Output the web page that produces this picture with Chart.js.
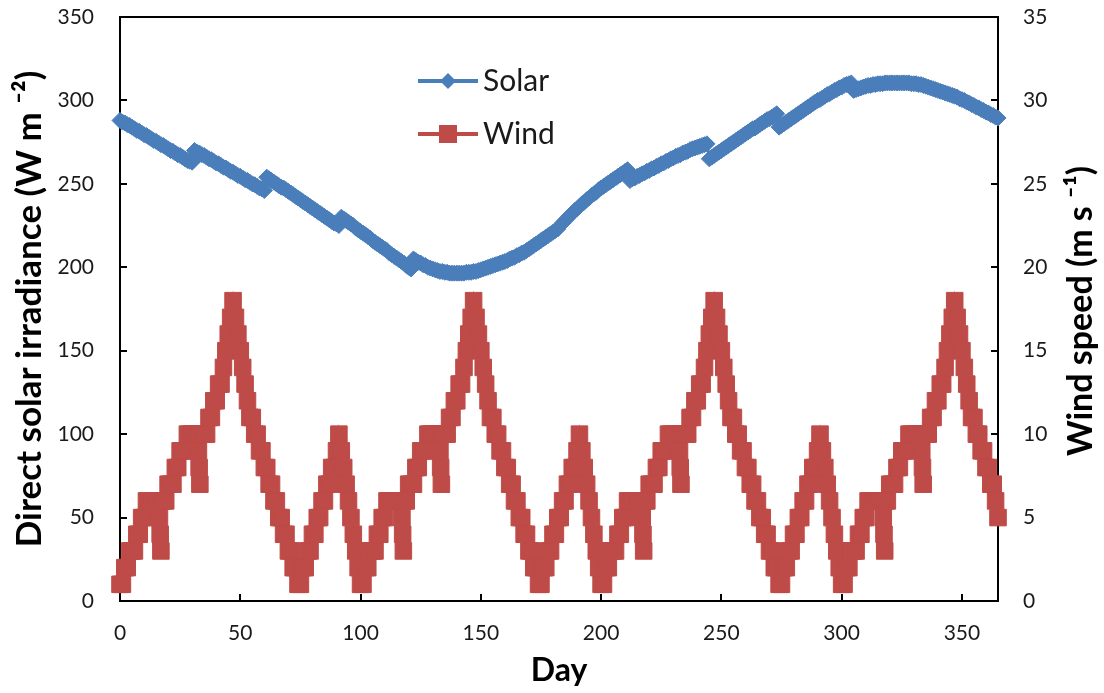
<!DOCTYPE html>
<html>
<head>
<meta charset="utf-8">
<script src="https://cdn.jsdelivr.net/npm/chart.js@4.4.1/dist/chart.umd.min.js"></script>
<style>
html,body{margin:0;padding:0;background:#fff;}
canvas{display:block;}
</style>
</head>
<body>
<canvas id="c" width="1104" height="693"></canvas>
<script>
// ---------------- DATA ----------------
const seriesNames = ['Solar', 'Wind'];
const xTitle = 'Day';
const yLeftTitle = 'Direct solar irradiance (W m \u207B\u00B2)';
const yRightTitle = 'Wind speed (m s \u207B\u00B9)';
const xTickValues = [0, 50, 100, 150, 200, 250, 300, 350];
const yLeftTickValues = [0, 50, 100, 150, 200, 250, 300, 350];
const yRightTickValues = [0, 5, 10, 15, 20, 25, 30, 35];

// Direct solar irradiance (W m-2), one value per day, day 0 .. 365
const solarIrradiance = [
  288, 287, 286.5, 285.5, 285, 284, 283, 282, 281.5, 280.5,
  279.5, 279, 278, 277, 276, 275.5, 274.5, 273.5, 273, 272,
  271, 270, 269.5, 268.5, 267.5, 267, 266, 265, 264, 263.5,
  263,
  270, 269, 268.5, 267.5, 267, 266, 265, 264.5, 263.5, 262.5,
  262, 261, 260, 259.5, 258.5, 257.5, 257, 256, 255, 254.5,
  253.5, 252.5, 252, 251, 250, 249.5, 248.5, 247.5, 247, 246,
  254, 253, 252, 251, 250, 249, 248, 247.5, 246.5, 245.5,
  244.5, 243.5, 242.5, 241.5, 240.5, 239.5, 238.5, 237.5, 236.5, 235.5,
  234.5, 233.5, 232.5, 231.5, 230.5, 229.5, 228.5, 227.5, 226.5, 226,
  225,
  230, 229, 228, 227, 226, 225, 223.5, 222.5, 221.5, 220.5,
  219.5, 218.5, 217.5, 216, 215, 214, 213, 212, 211, 210,
  208.5, 207.5, 206.5, 205.5, 204.5, 203.5, 202.5, 201, 200, 199,
  205, 204, 203, 202.5, 201.5, 201, 200, 199.5, 199, 198.5,
  198, 197.5, 197.5, 197, 197, 196.5, 196.5, 196.5, 196.5, 196.5,
  196.5, 196.5, 197, 197, 197, 197.5, 197.5, 198, 198.5, 199,
  199.5,
  200, 200.5, 201, 201.5, 202, 202.5, 203, 203.5, 204, 205,
  205.5, 206, 207, 207.5, 208.5, 209, 210, 211, 212, 213,
  214, 215, 216, 217, 218, 219, 220, 221, 222, 223,
  225, 226.5, 228, 229.5, 231, 232.5, 234, 235, 236.5, 238,
  239, 240.5, 241.5, 243, 244, 245, 246.5, 247.5, 248.5, 249.5,
  250.5, 251.5, 252.5, 253.5, 254.5, 255.5, 256.5, 257.5, 258.5,
  252, 253, 253.5, 254.5, 255, 256, 256.5, 257.5, 258, 259,
  259.5, 260.5, 261, 262, 262.5, 263.5, 264, 265, 265.5, 266.5,
  267, 267.5, 268.5, 269, 269.5, 270.5, 271, 271.5, 272, 272.5,
  273, 273.5, 274,
  265, 266, 267, 268, 269, 270, 271, 272, 273, 274,
  275, 276, 277, 278, 279, 280, 281, 282, 283, 283.5,
  284.5, 285.5, 286.5, 287.5, 288.5, 289, 290, 291, 292,
  284, 285, 286, 287, 288, 289, 290, 291, 292, 293,
  294, 295, 296, 297, 298, 299, 300, 300.5, 301.5, 302.5,
  303.5, 304, 305, 306, 306.5, 307.5, 308, 309, 309.5, 310,
  310.5,
  306, 306.5, 307, 307.5, 308, 308.5, 309, 309, 309.5, 309.5,
  310, 310, 310, 310.5, 310.5, 310.5, 310.5, 310.5, 310.5, 310.5,
  310.5, 310.5, 310.5, 310.5, 310, 310, 310, 309.5, 309.5, 309,
  308.5, 308, 307.5, 307, 306.5, 306, 305.5, 305, 304.5, 304,
  303.5, 303, 302.5, 302, 301, 300.5, 300, 299, 298.5, 297.5,
  297, 296, 295.5, 294.5, 294, 293, 292.5, 291.5, 291, 290,
  289.5
];

// Wind speed (m s-1), one value per day, day 0 .. 365
const windSpeed = [
  1, 1, 2, 2, 3, 3, 3, 4, 4, 5,
  5, 6, 6, 6, 6, 6, 6, 6, 6, 6,
  7, 7, 7, 8, 8, 9, 9, 9, 10, 10,
  10, 10, 10, 10, 10, 10, 10, 11, 11, 12,
  12, 13, 13, 14, 15, 16, 17, 18, 17, 16,
  15, 14, 13, 12, 11, 11, 10, 10, 9, 9,
  8, 8, 7, 7, 6, 6, 5, 5, 4, 4,
  3, 3, 2, 2, 1, 1, 2, 2, 3, 3,
  4, 4, 5, 5, 6, 6, 7, 7, 8, 8,
  9, 10, 9, 8, 7, 6, 5, 4, 3, 2,
  1, 1, 2, 2, 3, 3, 3, 4, 4, 5,
  5, 6, 6, 6, 6, 6, 6, 6, 6, 6,
  7, 7, 7, 8, 8, 9, 9, 9, 10, 10,
  10, 10, 10, 10, 10, 10, 10, 11, 11, 12,
  12, 13, 13, 14, 15, 16, 17, 18, 17, 16,
  15, 14, 13, 12, 11, 11, 10, 10, 9, 9,
  8, 8, 7, 7, 6, 6, 5, 5, 4, 4,
  3, 3, 2, 2, 1, 1, 2, 2, 3, 3,
  4, 4, 5, 5, 6, 6, 7, 7, 8, 8,
  9, 10, 9, 8, 7, 6, 5, 4, 3, 2,
  1, 1, 2, 2, 3, 3, 3, 4, 4, 5,
  5, 6, 6, 6, 6, 6, 6, 6, 6, 6,
  7, 7, 7, 8, 8, 9, 9, 9, 10, 10,
  10, 10, 10, 10, 10, 10, 10, 11, 11, 12,
  12, 13, 13, 14, 15, 16, 17, 18, 17, 16,
  15, 14, 13, 12, 11, 11, 10, 10, 9, 9,
  8, 8, 7, 7, 6, 6, 5, 5, 4, 4,
  3, 3, 2, 2, 1, 1, 2, 2, 3, 3,
  4, 4, 5, 5, 6, 6, 7, 7, 8, 8,
  9, 10, 9, 8, 7, 6, 5, 4, 3, 2,
  1, 1, 2, 2, 3, 3, 3, 4, 4, 5,
  5, 6, 6, 6, 6, 6, 6, 6, 6, 6,
  7, 7, 7, 8, 8, 9, 9, 9, 10, 10,
  10, 10, 10, 10, 10, 10, 10, 11, 11, 12,
  12, 13, 13, 14, 15, 16, 17, 18, 17, 16,
  15, 14, 13, 12, 11, 11, 10, 10, 9, 9,
  8, 8, 7, 7, 6, 5
];

// short downward wind dips (day, wind speed)
const windDipDays = [
  16.4, 16.7, 17.0, 32.6, 32.9, 33.2,
  117.2, 117.5, 117.8, 133.0, 133.3, 133.6,
  217.1, 217.4, 217.7, 232.6, 232.9, 233.2,
  317.3, 317.6, 317.9, 333.3, 333.6, 333.9
];
const windDipSpeeds = [
  5, 4, 3, 9, 8, 7,
  5, 4, 3, 9, 8, 7,
  5, 4, 3, 9, 8, 7,
  5, 4, 3, 9, 8, 7
];

// ---------------- STYLE ----------------
const SOLAR_COLOR = '#4A7EBB';
const WIND_COLOR = '#BE4B48';
const FONT = 'Lato';
const TEXT = '#1a1a1a';

const solarPoints = solarIrradiance.map((v, i) => ({ x: i, y: v }));
const windPoints = windSpeed.map((v, i) => ({ x: i, y: v }))
  .concat(windDipDays.map((d, i) => ({ x: d, y: windDipSpeeds[i] })))
  .sort((a, b) => a.x - b.x);

const framePlugin = {
  id: 'frame',
  beforeDatasetsDraw(chart) {
    const { ctx, chartArea: a, scales } = chart;
    ctx.save();
    ctx.strokeStyle = '#000';
    ctx.lineWidth = 2;
    ctx.strokeRect(a.left, a.top, a.right - a.left, a.bottom - a.top);
    ctx.beginPath();
    const T = 7;
    scales.x.ticks.forEach(t => {
      const p = Math.round(scales.x.getPixelForValue(t.value));
      ctx.moveTo(p, a.bottom); ctx.lineTo(p, a.bottom - T);
    });
    scales.y.ticks.forEach(t => {
      const p = Math.round(scales.y.getPixelForValue(t.value));
      ctx.moveTo(a.left, p); ctx.lineTo(a.left + T, p);
    });
    scales.y1.ticks.forEach(t => {
      const p = Math.round(scales.y1.getPixelForValue(t.value));
      ctx.moveTo(a.right, p); ctx.lineTo(a.right - T, p);
    });
    ctx.stroke();
    ctx.restore();
  },
  afterDraw(chart) {
    const { ctx, chartArea: a } = chart;
    ctx.save();
    // right axis title, reading bottom-to-top
    ctx.translate(1081, (a.top + a.bottom) / 2 + 2);
    ctx.rotate(-Math.PI / 2);
    ctx.font = 'bold 34px ' + FONT;
    ctx.fillStyle = '#000';
    ctx.textAlign = 'center';
    ctx.textBaseline = 'middle';
    ctx.fillText(yRightTitle, 0, 0);
    ctx.restore();

    // legend inside the plot
    const items = [
      { name: seriesNames[0], color: SOLAR_COLOR, style: 'diamond', y: 81 },
      { name: seriesNames[1], color: WIND_COLOR, style: 'square', y: 134 }
    ];
    ctx.save();
    items.forEach(it => {
      ctx.strokeStyle = it.color;
      ctx.lineWidth = 4;
      ctx.beginPath();
      ctx.moveTo(418, it.y); ctx.lineTo(478, it.y);
      ctx.stroke();
      ctx.fillStyle = it.color;
      ctx.beginPath();
      if (it.style === 'diamond') {
        const r = 8;
        ctx.moveTo(448 - r, it.y); ctx.lineTo(448, it.y - r);
        ctx.lineTo(448 + r, it.y); ctx.lineTo(448, it.y + r);
        ctx.closePath();
      } else {
        ctx.rect(448 - 9, it.y - 9, 18, 18);
      }
      ctx.fill();
      ctx.fillStyle = TEXT;
      ctx.font = '30px ' + FONT;
      ctx.textAlign = 'left';
      ctx.textBaseline = 'middle';
      ctx.fillText(it.name, 483, it.y);
    });
    ctx.restore();
  }
};

const tickFont = { family: FONT, size: 21 };
const noPadY = s => { s.paddingTop = 0; s.paddingBottom = 0; };

new Chart(document.getElementById('c'), {
  type: 'scatter',
  data: {
    datasets: [
      {
        label: seriesNames[0], data: solarPoints, yAxisID: 'y', showLine: true,
        borderColor: SOLAR_COLOR, backgroundColor: SOLAR_COLOR, pointBorderColor: SOLAR_COLOR,
        borderWidth: 3, pointStyle: 'rectRot', pointRadius: 8, pointBorderWidth: 1, clip: false
      },
      {
        label: seriesNames[1], data: windPoints, yAxisID: 'y1', showLine: true,
        borderColor: WIND_COLOR, backgroundColor: WIND_COLOR, pointBorderColor: WIND_COLOR,
        borderWidth: 3, pointStyle: 'rect', pointRadius: 11.7, pointBorderWidth: 1, clip: false
      }
    ]
  },
  options: {
    responsive: false,
    animation: false,
    events: [],
    layout: { padding: { top: 17, left: 0, right: 0, bottom: 0 } },
    plugins: { legend: { display: false }, tooltip: { enabled: false } },
    scales: {
      x: {
        type: 'linear', min: 0, max: 365,
        afterBuildTicks: s => { s.ticks = xTickValues.map(v => ({ value: v })); },
        afterFit: s => { s.height = 92; s.paddingLeft = 0; s.paddingRight = 0; },
        grid: { display: false, drawTicks: false },
        border: { display: false },
        ticks: { font: tickFont, color: TEXT, padding: 20, maxRotation: 0 },
        title: { display: true, text: xTitle, color: '#000', font: { family: FONT, size: 32, weight: 'bold' }, padding: { top: 0, bottom: 3 } }
      },
      y: {
        type: 'linear', position: 'left', min: 0, max: 350,
        afterBuildTicks: s => { s.ticks = yLeftTickValues.map(v => ({ value: v })); },
        afterFit: s => { s.width = 120; noPadY(s); },
        grid: { display: false, drawTicks: false },
        border: { display: false },
        ticks: { font: tickFont, color: TEXT, padding: 26 },
        title: { display: true, text: yLeftTitle, color: '#000', font: { family: FONT, size: 35, weight: 'bold' }, padding: { top: 9, bottom: 0 } }
      },
      y1: {
        type: 'linear', position: 'right', min: 0, max: 35,
        afterBuildTicks: s => { s.ticks = yRightTickValues.map(v => ({ value: v })); },
        afterFit: s => { s.width = 106; noPadY(s); },
        grid: { display: false, drawTicks: false },
        border: { display: false },
        ticks: { font: tickFont, color: TEXT, padding: 25 }
      }
    }
  },
  plugins: [framePlugin]
});
</script>
</body>
</html>
